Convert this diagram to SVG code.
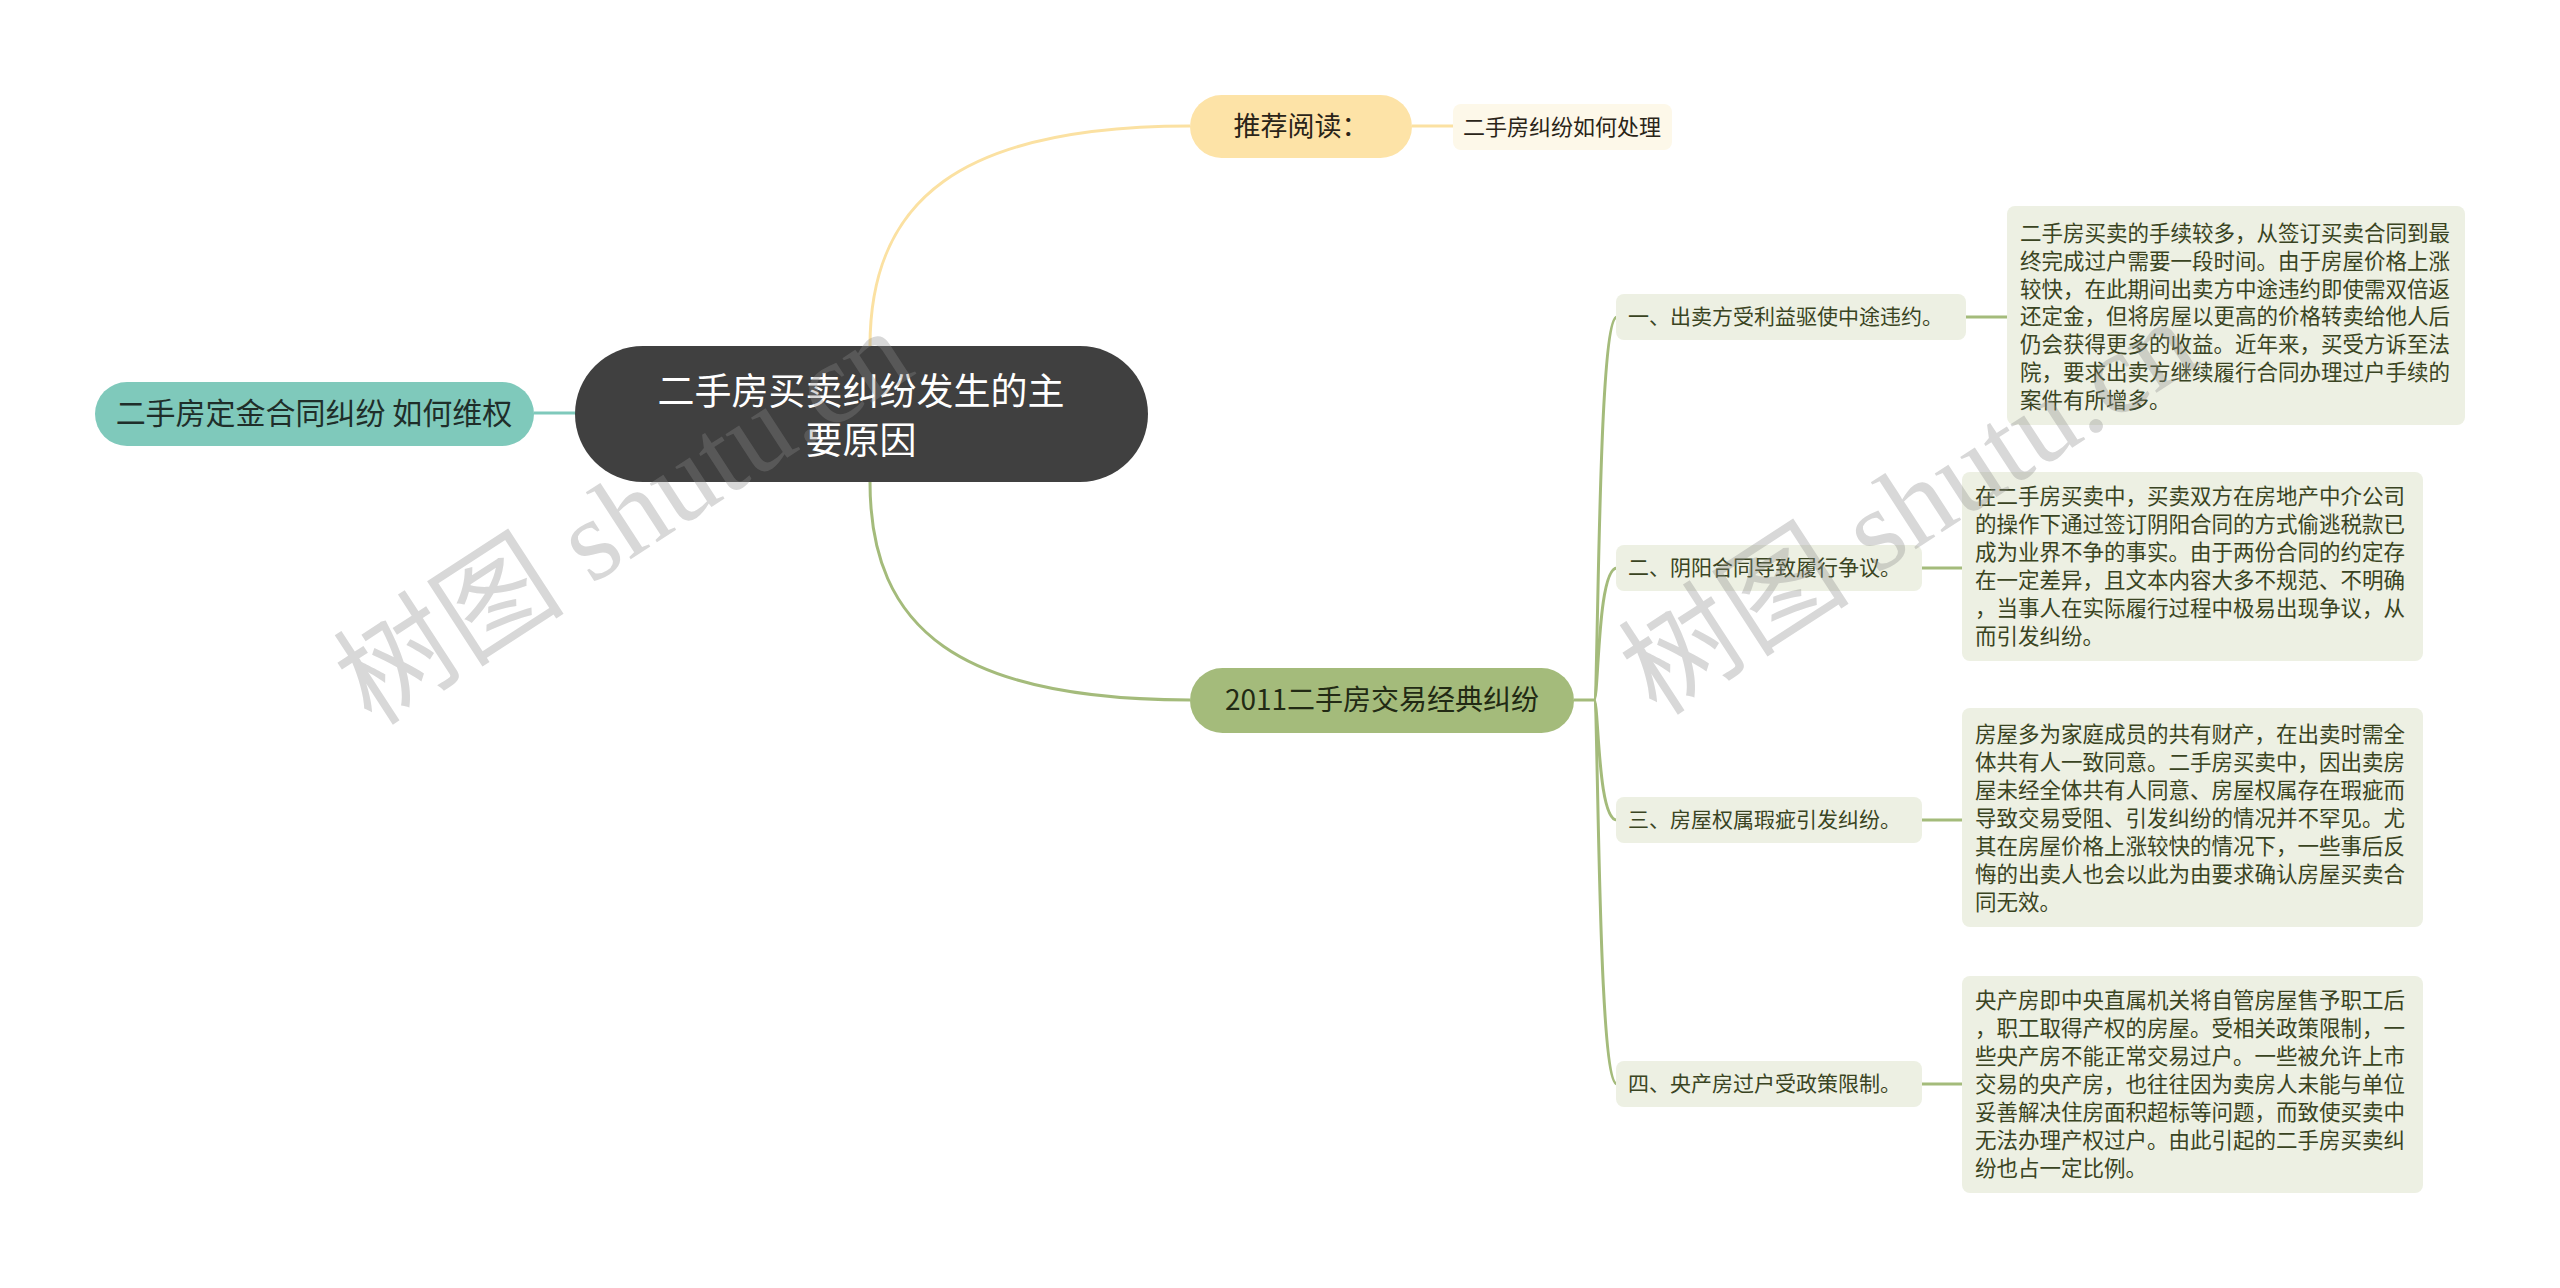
<svg xmlns="http://www.w3.org/2000/svg" width="2560" height="1288" viewBox="0 0 2560 1288">
<style>
text{font-family:"Noto Sans CJK SC","Liberation Sans",sans-serif}
.conn{fill:none;stroke-width:3}
.g{stroke:#a4bb7b}
.y{stroke:#fbe1a2}
.t{stroke:#7fc9bb}
.child{fill:#edf0e3}
.ct{font-size:21px;fill:#3a4422}
.dt{font-size:21.5px;fill:#3a4422}
.wm{font-family:"Liberation Serif","Noto Sans CJK SC",serif;font-size:116px;fill:#8a8a8a;opacity:0.33}
</style>
<rect width="2560" height="1288" fill="#ffffff"/>
<g id="connectors">
<path class="conn t" d="M534,413 H576"/>
<path class="conn y" d="M870,346 C870,200 960,126 1190,126"/>
<path class="conn y" d="M1412,126 H1453"/>
<path class="conn g" d="M870,482 C870,630 960,700 1190,700"/>
<path class="conn g" d="M1574,700 H1594"/>
<path class="conn g" d="M1594,700 C1599,700 1597,317 1617,317"/>
<path class="conn g" d="M1594,700 C1599,700 1597,568 1617,568"/>
<path class="conn g" d="M1594,700 C1599,700 1597,820 1617,820"/>
<path class="conn g" d="M1594,700 C1599,700 1597,1084 1617,1084"/>
<path class="conn g" d="M1966,317 H2007"/>
<path class="conn g" d="M1922,568 H1962"/>
<path class="conn g" d="M1922,820 H1962"/>
<path class="conn g" d="M1922,1084 H1962"/>
</g>
<g id="center">
<rect x="575" y="346" width="573" height="136" rx="68" fill="#404040"/>
<text x="861" y="405" font-size="37" fill="#ffffff" text-anchor="middle">二手房买卖纠纷发生的主</text>
<text x="861" y="454" font-size="37" fill="#ffffff" text-anchor="middle">要原因</text>
</g>
<g id="left">
<rect x="95" y="382" width="439" height="64" rx="32" fill="#7fc9bb"/>
<text x="314" y="424" font-size="30" fill="#1f2e2a" text-anchor="middle">二手房定金合同纠纷 如何维权</text>
</g>
<g id="recommend">
<rect x="1190" y="95" width="222" height="63" rx="31.5" fill="#fde3a7"/>
<text x="1301" y="136" font-size="27" fill="#2a2418" text-anchor="middle">推荐阅读：</text>
</g>
<g id="recommend-item">
<rect x="1453" y="104" width="219" height="46" rx="8" fill="#fdf8e9"/>
<text x="1562" y="135" font-size="22" fill="#2a2418" text-anchor="middle">二手房纠纷如何处理</text>
</g>
<g id="branch2011">
<rect x="1190" y="668" width="384" height="65" rx="32.5" fill="#a4bb7b"/>
<text x="1382" y="710" font-size="28" fill="#222a14" text-anchor="middle">2011二手房交易经典纠纷</text>
</g>
<g id="c1">
<rect class="child" x="1616" y="294" width="350" height="46" rx="8"/>
<text class="ct" x="1628" y="324">一、出卖方受利益驱使中途违约。</text>
</g>
<g id="d1">
<rect class="child" x="2007" y="206" width="458" height="219" rx="8"/>
<text class="dt" x="2020" y="241"><tspan x="2020">二手房买卖的手续较多，从签订买卖合同到最</tspan><tspan x="2020" dy="27.8">终完成过户需要一段时间。由于房屋价格上涨</tspan><tspan x="2020" dy="27.8">较快，在此期间出卖方中途违约即使需双倍返</tspan><tspan x="2020" dy="27.8">还定金，但将房屋以更高的价格转卖给他人后</tspan><tspan x="2020" dy="27.8">仍会获得更多的收益。近年来，买受方诉至法</tspan><tspan x="2020" dy="27.8">院，要求出卖方继续履行合同办理过户手续的</tspan><tspan x="2020" dy="27.8">案件有所增多。</tspan></text>
</g>
<g id="c2">
<rect class="child" x="1616" y="545" width="306" height="46" rx="8"/>
<text class="ct" x="1628" y="575">二、阴阳合同导致履行争议。</text>
</g>
<g id="d2">
<rect class="child" x="1962" y="472" width="461" height="189" rx="8"/>
<text class="dt" x="1975" y="504"><tspan x="1975">在二手房买卖中，买卖双方在房地产中介公司</tspan><tspan x="1975" dy="28">的操作下通过签订阴阳合同的方式偷逃税款已</tspan><tspan x="1975" dy="28">成为业界不争的事实。由于两份合同的约定存</tspan><tspan x="1975" dy="28">在一定差异，且文本内容大多不规范、不明确</tspan><tspan x="1975" dy="28">，当事人在实际履行过程中极易出现争议，从</tspan><tspan x="1975" dy="28">而引发纠纷。</tspan></text>
</g>
<g id="c3">
<rect class="child" x="1616" y="797" width="306" height="46" rx="8"/>
<text class="ct" x="1628" y="827">三、房屋权属瑕疵引发纠纷。</text>
</g>
<g id="d3">
<rect class="child" x="1962" y="708" width="461" height="219" rx="8"/>
<text class="dt" x="1975" y="742"><tspan x="1975">房屋多为家庭成员的共有财产，在出卖时需全</tspan><tspan x="1975" dy="28">体共有人一致同意。二手房买卖中，因出卖房</tspan><tspan x="1975" dy="28">屋未经全体共有人同意、房屋权属存在瑕疵而</tspan><tspan x="1975" dy="28">导致交易受阻、引发纠纷的情况并不罕见。尤</tspan><tspan x="1975" dy="28">其在房屋价格上涨较快的情况下，一些事后反</tspan><tspan x="1975" dy="28">悔的出卖人也会以此为由要求确认房屋买卖合</tspan><tspan x="1975" dy="28">同无效。</tspan></text>
</g>
<g id="c4">
<rect class="child" x="1616" y="1061" width="306" height="46" rx="8"/>
<text class="ct" x="1628" y="1091">四、央产房过户受政策限制。</text>
</g>
<g id="d4">
<rect class="child" x="1962" y="976" width="461" height="217" rx="8"/>
<text class="dt" x="1975" y="1008"><tspan x="1975">央产房即中央直属机关将自管房屋售予职工后</tspan><tspan x="1975" dy="28">，职工取得产权的房屋。受相关政策限制，一</tspan><tspan x="1975" dy="28">些央产房不能正常交易过户。一些被允许上市</tspan><tspan x="1975" dy="28">交易的央产房，也往往因为卖房人未能与单位</tspan><tspan x="1975" dy="28">妥善解决住房面积超标等问题，而致使买卖中</tspan><tspan x="1975" dy="28">无法办理产权过户。由此引起的二手房买卖纠</tspan><tspan x="1975" dy="28">纷也占一定比例。</tspan></text>
</g>
<g id="watermarks">
<text class="wm" x="0" y="0" text-anchor="middle" transform="translate(645,550) rotate(-33)">树图 shutu.cn</text>
<text class="wm" x="0" y="0" text-anchor="middle" transform="translate(1930,540) rotate(-33)">树图 shutu.cn</text>
</g>
</svg>
